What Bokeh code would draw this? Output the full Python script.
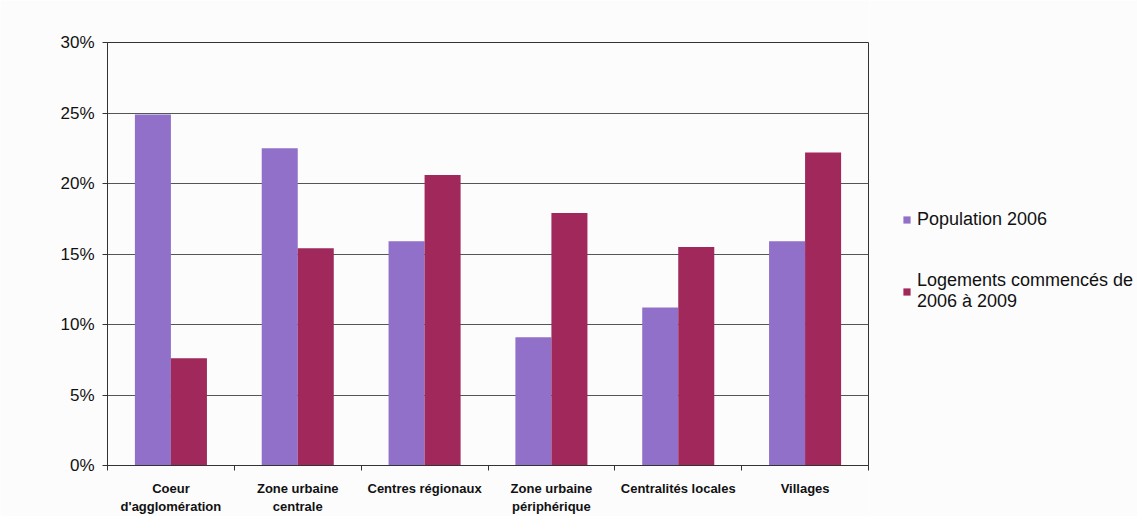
import numpy as np
from bokeh.plotting import figure
from bokeh.layouts import row
from bokeh.models import (ColumnDataSource, FixedTicker, PrintfTickFormatter,
                          Range1d, Legend, LegendItem)
from bokeh.embed import file_html
from bokeh.resources import INLINE

# Category labels (two-line labels where the original breaks them)
categories = ["Coeur\nd'agglomération", "Zone urbaine\ncentrale", "Centres régionaux",
              "Zone urbaine\npériphérique", "Centralités locales", "Villages"]
series_names = ["Population 2006", "Logements commencés de\n2006 à 2009"]
population_2006 = [24.9, 22.5, 15.9, 9.1, 11.2, 15.9]
logements_2006_2009 = [7.6, 15.4, 20.6, 17.9, 15.5, 22.2]
y_ticks = [0, 5, 10, 15, 20, 25, 30]

PURPLE = "#9070C8"
CRIMSON = "#A0285A"
BG = "#fcfcfd"
FONT = "Liberation Sans"

n = len(categories)
centers = np.arange(n) + 0.5
bar_w = 0.284

src = ColumnDataSource(dict(
    x_pop=centers - bar_w / 2,
    x_log=centers + bar_w / 2,
    pop=population_2006,
    log=logements_2006_2009,
))

# ---- main bar chart ----
p = figure(width=869, height=516, output_backend="svg", toolbar_location=None,
           x_range=Range1d(0, n), y_range=Range1d(0, 30),
           min_border_left=107, min_border_right=1,
           min_border_top=42, min_border_bottom=50)
p.background_fill_color = BG
p.border_fill_color = BG
p.outline_line_color = "#333333"
p.outline_line_width = 1

p.vbar(x="x_pop", top="pop", width=bar_w, bottom=0, source=src,
       fill_color=PURPLE, line_color=None)
p.vbar(x="x_log", top="log", width=bar_w, bottom=0, source=src,
       fill_color=CRIMSON, line_color=None)

# x axis: labels at category centres, ticks on category boundaries
p.xaxis.ticker = FixedTicker(ticks=list(centers), minor_ticks=list(range(n + 1)))
p.xaxis.major_label_overrides = {float(c): lab for c, lab in zip(centers, categories)}
p.xaxis.major_tick_out = 0
p.xaxis.major_tick_in = 0
p.xaxis.minor_tick_out = 5
p.xaxis.minor_tick_in = 0
p.xaxis.axis_line_color = "#333333"
p.xaxis.minor_tick_line_color = "#333333"
p.xaxis.major_label_text_font = FONT
p.xaxis.major_label_text_font_style = "bold"
p.xaxis.major_label_text_font_size = "13px"
p.xaxis.major_label_text_color = "#111111"
p.xaxis.major_label_standoff = 10

# y axis in percent
p.yaxis.ticker = FixedTicker(ticks=y_ticks)
p.yaxis.formatter = PrintfTickFormatter(format="%d%%")
p.yaxis.major_tick_out = 5
p.yaxis.major_tick_in = 0
p.yaxis.minor_tick_line_color = None
p.yaxis.axis_line_color = "#333333"
p.yaxis.major_tick_line_color = "#333333"
p.yaxis.major_label_text_font = FONT
p.yaxis.major_label_text_font_size = "17px"
p.yaxis.major_label_text_color = "#111111"
p.yaxis.major_label_standoff = 8

p.xgrid.grid_line_color = None
p.ygrid.ticker = FixedTicker(ticks=y_ticks)
p.ygrid.grid_line_color = "#555555"
p.ygrid.grid_line_width = 1

# ---- legend panel to the right of the chart ----
q = figure(width=268, height=516, output_backend="svg", toolbar_location=None,
           x_range=Range1d(0, 1), y_range=Range1d(0, 1),
           min_border=0, x_axis_type=None, y_axis_type=None)
q.background_fill_color = BG
q.border_fill_color = BG
q.outline_line_color = None
q.grid.grid_line_color = None
# key swatches only: the proxies carry the series colours, no visible data
proxy = ColumnDataSource(dict(x=[np.nan], top=[np.nan]))
k_pop = q.vbar(x="x", top="top", width=0.1, source=proxy,
               fill_color=PURPLE, line_color=None)
k_log = q.vbar(x="x", top="top", width=0.1, source=proxy,
               fill_color=CRIMSON, line_color=None)

legend = Legend(items=[
    LegendItem(label=series_names[0], renderers=[k_pop], index=0),
    LegendItem(label=series_names[1], renderers=[k_log], index=0),
], location=(33, 153))
legend.background_fill_alpha = 0
legend.border_line_color = None
legend.label_text_font = FONT
legend.label_text_font_size = "18px"
legend.label_text_color = "#111111"
legend.label_text_line_height = 0.85
legend.label_height = 0
legend.glyph_width = 9
legend.glyph_height = 9
legend.label_standoff = 6
legend.spacing = 40
legend.padding = 0
legend.margin = 0
q.add_layout(legend, "center")

open("out.html", "w").write(file_html(row(p, q, spacing=0), INLINE))
